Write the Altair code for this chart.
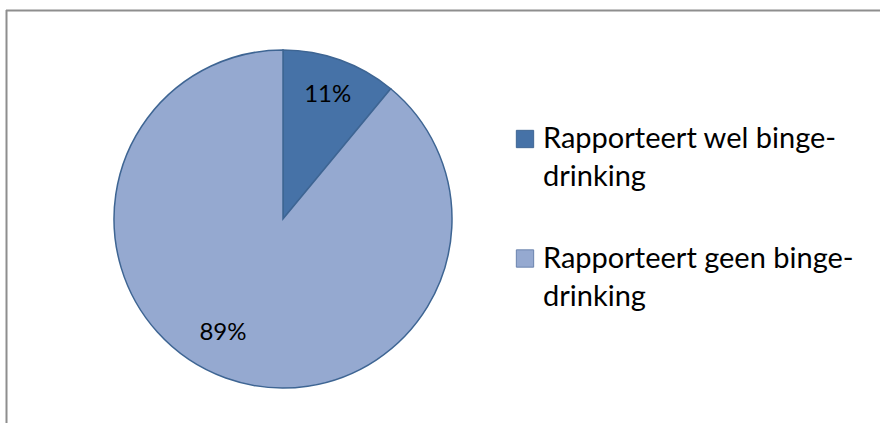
import altair as alt
import pandas as pd
import math

categories = ["Rapporteert wel binge-drinking", "Rapporteert geen binge-drinking"]
percent = [11, 89]
pct_labels = ["11%", "89%"]
legend_text = ["Rapporteert wel binge-\ndrinking", "Rapporteert geen binge-\ndrinking"]
colors = ["#4672A7", "#95A9D0"]

df = pd.DataFrame({
    "category": categories,
    "percent": percent,
    "label": pct_labels,
    "legend": legend_text,
    "order": list(range(len(categories))),
})

base = alt.Chart(df)
color = alt.Color("category:N", scale=alt.Scale(domain=categories, range=colors), legend=None)
CX, CY, R = 283, 219, 169

pie = base.mark_arc(stroke="#3E6593", strokeWidth=1.5, radius=R).encode(
    theta=alt.Theta("percent:Q", stack=True, scale=alt.Scale(range=[0, 2 * math.pi])),
    order=alt.Order("order:Q"),
    fill=color,
    x=alt.value(CX), y=alt.value(CY),
)

lab_base = base.transform_window(
    cum="sum(percent)", sort=[alt.SortField("order")]
).transform_calculate(mid="datum.cum - datum.percent / 2")

def label_layer(idx, radius, dx, dy):
    return lab_base.transform_filter(f"datum.order == {idx}").mark_text(
        font="Lato", fontSize=24, color="black", radius=radius, dx=dx, dy=dy,
        align="center", baseline="middle"
    ).encode(
        theta=alt.Theta("mid:Q", stack=None, scale=alt.Scale(domain=[0, 100], range=[0, 2 * math.pi])),
        text="label:N",
        x=alt.value(CX), y=alt.value(CY),
    )

lab1 = label_layer(0, 132, 0, 0)
lab2 = label_layer(1, 130, -16, -8)

ypos = alt.Y("order:O", scale=alt.Scale(type="point", range=[139, 258.5], padding=0), axis=None)

squares = base.mark_square(size=300, strokeWidth=1, opacity=1).encode(
    x=alt.value(525), y=ypos, fill=color,
    stroke=alt.Stroke("category:N", scale=alt.Scale(domain=categories, range=["#3E6593", "#6A83AE"]), legend=None),
)

legtext = base.mark_text(
    font="Lato", fontSize=29, align="left", baseline="alphabetic", lineBreak="\n",
    lineHeight=38, dy=9, color="black"
).encode(x=alt.value(543), y=ypos, text="legend:N")

border_top = alt.Chart(pd.DataFrame({"a": [0]})).mark_rule(color="#8E8E8E", strokeWidth=2).encode(
    x=alt.value(6), x2=alt.value(880), y=alt.value(10.5)
)
border_left = alt.Chart(pd.DataFrame({"a": [0]})).mark_rule(color="#8E8E8E", strokeWidth=2).encode(
    x=alt.value(6.5), y=alt.value(10), y2=alt.value(423)
)

chart = alt.layer(border_top, border_left, pie, lab1, lab2, squares, legtext).properties(
    width=880, height=423, padding=0, autosize="none", background="white"
).configure_view(stroke=None)

chart.save("out.html", embed_options={"renderer": "svg", "actions": False})
